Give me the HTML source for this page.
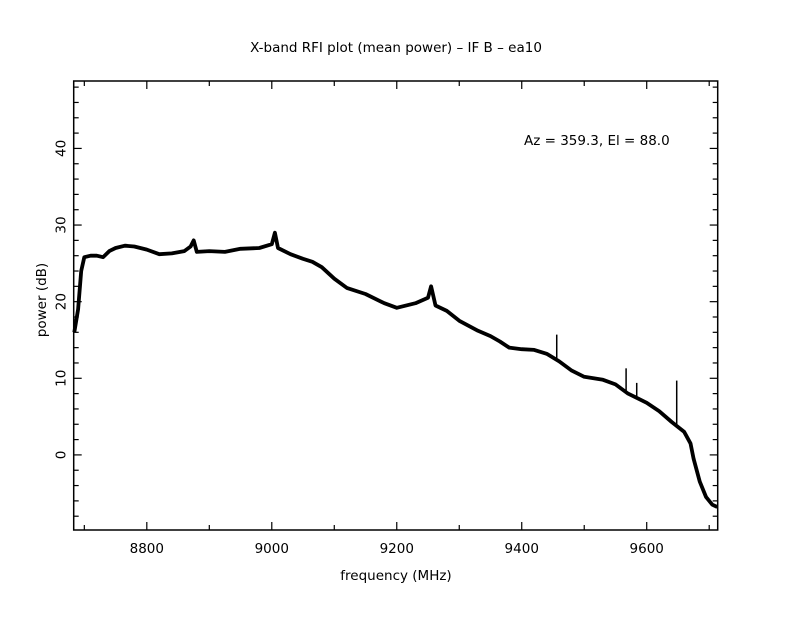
<!DOCTYPE html>
<html><head><meta charset="utf-8"><style>
body{margin:0;background:#fff;width:792px;height:612px;overflow:hidden}
text{font-family:"DejaVu Sans","Liberation Sans",sans-serif;fill:#000}
</style></head><body>
<svg id="chart" width="792" height="612" xmlns="http://www.w3.org/2000/svg">
<text x="396" y="52" font-size="13.5" text-anchor="middle">X-band RFI plot (mean power) – IF B – ea10</text>
<text x="524" y="145" font-size="13.5">Az = 359.3, El = 88.0</text>
<text x="396" y="580" font-size="13.5" text-anchor="middle">frequency (MHz)</text>
<text transform="translate(46,300) rotate(-90)" font-size="13.5" text-anchor="middle">power (dB)</text>
<rect x="73.7" y="81" width="644" height="449" fill="none" stroke="#000" stroke-width="1.5"/>
<g id="ticks"></g>
<g id="series"></g>
</svg>
<script>
const freqs=[8684,8690,8695,8700,8710,8720,8730,8740,8750,8765,8780,8800,8820,8840,8860,8870,8875,8880,8900,8925,8950,8980,9000,9005,9010,9030,9050,9065,9080,9100,9120,9150,9180,9200,9230,9250,9255,9262,9280,9300,9330,9350,9365,9380,9400,9420,9440,9460,9480,9500,9530,9550,9570,9600,9620,9640,9660,9670,9675,9685,9695,9705,9713];
const power=[16,19,24,25.8,26,26,25.8,26.6,27,27.3,27.2,26.8,26.2,26.3,26.6,27.2,28,26.5,26.6,26.5,26.9,27,27.5,29,27,26.2,25.6,25.2,24.5,23,21.8,21,19.8,19.2,19.8,20.5,22,19.5,18.8,17.5,16.2,15.5,14.8,14,13.8,13.7,13.2,12.2,11,10.2,9.8,9.2,8,6.8,5.7,4.3,3,1.5,-0.5,-3.5,-5.5,-6.5,-6.8];
const spikeFreqs=[9456,9567,9584,9648];
const spikeTops=[15.7,11.3,9.4,9.7];
const xMajor=[8800,9000,9200,9400,9600];
const yMajor=[0,10,20,30,40];
const X0=8683,X1=9713.6,Y0=-9.8,Y1=48.8;
const L=73.7,R=717.7,T=81,B=530;
const NS='http://www.w3.org/2000/svg';
function xs(f){return L+(f-X0)/(X1-X0)*(R-L);}
function ys(v){return B-(v-Y0)/(Y1-Y0)*(B-T);}
function mk(tag,attrs,parent){const e=document.createElementNS(NS,tag);for(const k in attrs)e.setAttribute(k,attrs[k]);parent.appendChild(e);return e;}
const tg=document.getElementById('ticks');
for(let f=8700;f<=9700;f+=100){const maj=f%200===0;const len=maj?8:5;
 const t1=mk('line',{x1:xs(f),x2:xs(f),y1:B,y2:B-len,stroke:'#000','stroke-width':1.2},tg);
 
 
 const t2=mk('line',{x1:xs(f),x2:xs(f),y1:T,y2:T+len,stroke:'#000','stroke-width':1.2},tg);
 
 }
xMajor.forEach(f=>{const t=mk('text',{x:xs(f),y:B+23,'font-size':13.5,'text-anchor':'middle'},tg);t.textContent=f;
 
 });
for(let v=-8;v<=48;v+=2){const maj=v%10===0;const len=maj?8:5;
 const t1=mk('line',{x1:L,x2:L+len,y1:ys(v),y2:ys(v),stroke:'#000','stroke-width':1.2},tg);
 
 
 const t2=mk('line',{x1:R,x2:R-len,y1:ys(v),y2:ys(v),stroke:'#000','stroke-width':1.2},tg);
 
 }
yMajor.forEach(v=>{const t=mk('text',{transform:`translate(${L-8},${ys(v)}) rotate(-90)`,'font-size':13.5,'text-anchor':'middle'},tg);t.textContent=v;
 
 });
const sg=document.getElementById('series');
const pts=freqs.map((f,i)=>xs(f).toFixed(1)+','+ys(power[i]).toFixed(1)).join(' ');
const pl=mk('polyline',{points:pts,fill:'none',stroke:'#000','stroke-width':3.8,'stroke-linejoin':'round'},sg);


function interp(f){for(let i=1;i<freqs.length;i++){if(f<=freqs[i]){const a=(f-freqs[i-1])/(freqs[i]-freqs[i-1]);return power[i-1]+a*(power[i]-power[i-1]);}}return power[power.length-1];}
spikeFreqs.forEach((f,i)=>{const s=mk('line',{x1:xs(f),x2:xs(f),y1:ys(interp(f)),y2:ys(spikeTops[i]),stroke:'#000','stroke-width':1.5},sg);
 
 });
</script>
</body></html>
